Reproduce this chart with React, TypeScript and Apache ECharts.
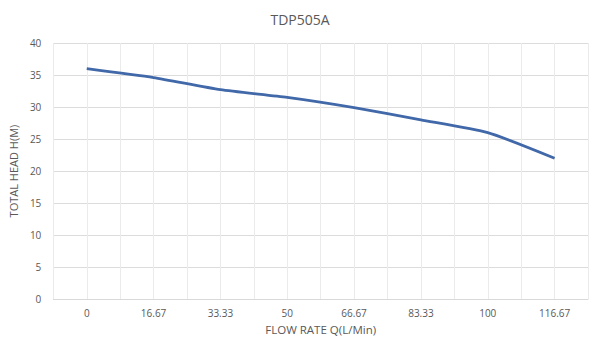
import React, { useEffect, useRef } from "react";
import * as echarts from "echarts";

const title = "TDP505A";
const flowRates = ["0", "16.67", "33.33", "50", "66.67", "83.33", "100", "116.67"];
const totalHead = [36, 34.6, 32.7, 31.5, 29.9, 28, 26, 22];
const yTicks = { min: 0, max: 40, interval: 5 };

export default function App() {
  const ref = useRef<HTMLDivElement>(null);
  useEffect(() => {
    if (!ref.current) return;
    const chart = echarts.init(ref.current, null, { renderer: "svg" });
    const font = "'Open Sans', Lato, sans-serif";
    const halfBandCount = flowRates.length * 2;
    chart.setOption({
      animation: false,
      backgroundColor: "#ffffff",
      title: {
        text: title,
        left: "center",
        top: 7,
        textStyle: { color: "#595959", fontSize: 14, fontWeight: "normal", fontFamily: font },
      },
      grid: { left: 52, right: 12, top: 43, bottom: 53, containLabel: false },
      xAxis: [
        {
          type: "category",
          data: flowRates,
          boundaryGap: true,
          name: "FLOW RATE Q(L/Min)",
          nameLocation: "middle",
          nameGap: 24,
          nameTextStyle: { color: "#595959", fontSize: 11.5, fontFamily: font },
          axisLine: { show: true, lineStyle: { color: "#d9d9d9", width: 1 } },
          axisTick: { show: false },
          axisLabel: { color: "#595959", fontSize: 10, fontFamily: font, margin: 9, interval: 0 },
          splitLine: { show: false },
          z: 3,
        },
        {
          type: "value",
          min: 0,
          max: halfBandCount,
          interval: 1,
          position: "top",
          axisLine: { show: false },
          axisTick: { show: false },
          axisLabel: { show: false },
          splitLine: { show: true, lineStyle: { color: "#ebebeb", width: 1 } },
        },
      ],
      yAxis: {
        type: "value",
        min: yTicks.min,
        max: yTicks.max,
        interval: yTicks.interval,
        name: "TOTAL HEAD H(M)",
        nameLocation: "middle",
        nameGap: 24,
        nameRotate: 90,
        nameTextStyle: { color: "#595959", fontSize: 11, fontFamily: font },
        axisLine: { show: false },
        axisTick: { show: false },
        axisLabel: { color: "#595959", fontSize: 10, fontFamily: font, margin: 12 },
        splitLine: { show: true, lineStyle: { color: "#dcdcdc", width: 1 } },
      },
      series: [
        {
          type: "line",
          xAxisIndex: 0,
          data: totalHead,
          smooth: 0.2,
          showSymbol: false,
          symbol: "none",
          lineStyle: { color: "#4168a8", width: 2.75 },
        },
      ],
    });
    return () => chart.dispose();
  }, []);
  return <div ref={ref} style={{ width: 600, height: 352, position: "absolute", left: 0, top: 0 }} />;
}
